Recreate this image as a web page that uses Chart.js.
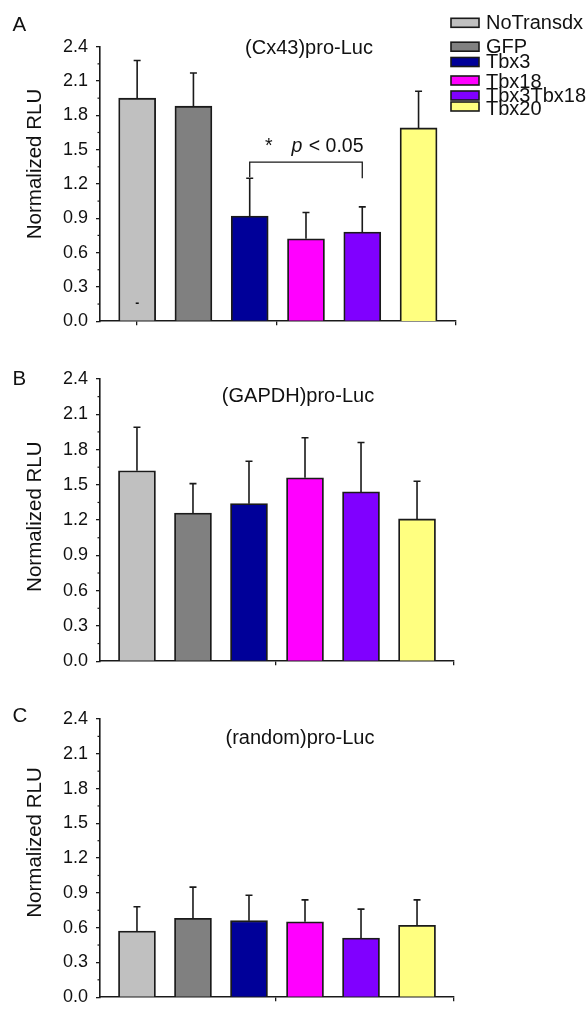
<!DOCTYPE html>
<html><head><meta charset="utf-8">
<script src="https://cdn.jsdelivr.net/npm/chart.js@4.4.0/dist/chart.umd.min.js"></script>
<style>
html,body{margin:0;padding:0;background:#fff;}
#wrap{position:relative;width:587px;height:1016px;overflow:hidden;}
canvas{position:absolute;left:0;}
</style></head><body>
<div id="wrap">
<canvas id="cA" width="587" height="340" style="top:0px;width:587px;height:340px"></canvas>
<canvas id="cB" width="587" height="340" style="top:340px;width:587px;height:340px"></canvas>
<canvas id="cC" width="587" height="336" style="top:680px;width:587px;height:336px"></canvas>
</div>
<script>
// ---- data ----
const categories = ['NoTransdx', 'GFP', 'Tbx3', 'Tbx18', 'Tbx3Tbx18', 'Tbx20'];
const yTickValues = [0.0, 0.3, 0.6, 0.9, 1.2, 1.5, 1.8, 2.1, 2.4];

const cx43Means  = [1.95, 1.88, 0.92, 0.72, 0.78, 1.69];
const cx43Errors = [0.33, 0.29, 0.33, 0.23, 0.22, 0.32];

const gapdhMeans  = [1.62, 1.26, 1.34, 1.56, 1.44, 1.21];
const gapdhErrors = [0.37, 0.25, 0.36, 0.34, 0.42, 0.32];

const randomMeans  = [0.57, 0.68, 0.66, 0.65, 0.51, 0.62];
const randomErrors = [0.21, 0.27, 0.22, 0.19, 0.25, 0.22];

const significance = {from: 2, to: 4, level: 1.39, leftEnd: 1.26, rightEnd: 1.25, star: '*', label: '< 0.05'};

// ---- styles ----
const barColors = ['#C0C0C0', '#808080', '#000099', '#FF00FF', '#8000FF', '#FFFF80'];
const FONT = '"Liberation Sans", Arial, sans-serif';
const INK = '#1a1a1a';

const deco = {
  id: 'deco',
  afterDatasetsDraw(chart) {
    const ctx = chart.ctx;
    const meta = chart.getDatasetMeta(0);
    const ds = chart.data.datasets[0];
    const ys = chart.scales.y;
    ctx.save();
    ctx.strokeStyle = INK;
    ctx.lineWidth = 1.6;
    meta.data.forEach((bar, i) => {
      const yErr = ys.getPixelForValue(ds.data[i].y + ds.errors[i]);
      ctx.beginPath();
      ctx.moveTo(bar.x, bar.y);
      ctx.lineTo(bar.x, yErr);
      ctx.moveTo(bar.x - 3.5, yErr);
      ctx.lineTo(bar.x + 3.5, yErr);
      ctx.stroke();
    });
    ctx.restore();
  },
  afterDraw(chart) {
    const o = chart.options.plugins.deco;
    const ctx = chart.ctx;
    const ys = chart.scales.y, xs = chart.scales.x;
    const left = chart.chartArea.left;
    ctx.save();
    // minor ticks
    ctx.strokeStyle = INK; ctx.lineWidth = 1.2;
    for (let i = 0; i < yTickValues.length - 1; i++) {
      const y = ys.getPixelForValue((yTickValues[i] + yTickValues[i + 1]) / 2);
      ctx.beginPath(); ctx.moveTo(left - 2.5, y); ctx.lineTo(left, y); ctx.stroke();
    }
    ctx.fillStyle = '#111';
    ctx.textBaseline = 'middle';
    // panel letter
    ctx.font = '20.5px ' + FONT; ctx.textAlign = 'left';
    ctx.fillText(o.letter, o.letterPos[0], o.letterPos[1]);
    // subtitle
    ctx.font = '20px ' + FONT; ctx.textAlign = 'center';
    ctx.fillText(o.subtitle, o.subPos[0], o.subPos[1]);
    // y title
    ctx.save();
    ctx.translate(35, o.yTitleY);
    ctx.rotate(-Math.PI / 2);
    ctx.font = '20.5px ' + FONT; ctx.textAlign = 'center';
    ctx.fillText('Normalized RLU', 0, 0);
    ctx.restore();

    if (o.dash) {
      ctx.font = 'bold 12px ' + FONT; ctx.textAlign = 'center';
      ctx.fillText('-', xs.getPixelForValue(0), ys.getPixelForValue(0.15));
    }
    if (o.bracket) {
      const s = significance;
      const x1 = xs.getPixelForValue(s.from), x2 = xs.getPixelForValue(s.to);
      const yl = ys.getPixelForValue(s.level);
      ctx.strokeStyle = INK; ctx.lineWidth = 1.3;
      ctx.beginPath();
      ctx.moveTo(x1, ys.getPixelForValue(s.leftEnd));
      ctx.lineTo(x1, yl); ctx.lineTo(x2, yl);
      ctx.lineTo(x2, ys.getPixelForValue(s.rightEnd));
      ctx.stroke();
      ctx.textAlign = 'left';
      ctx.font = '19.5px ' + FONT;
      ctx.fillText(s.star, 265, 147);
      ctx.font = 'italic 19.5px ' + FONT;
      ctx.fillText('p', 291.5, 147);
      const pw = ctx.measureText('p ').width;
      ctx.font = '19.5px ' + FONT;
      ctx.fillText(s.label, 291.5 + pw + 1, 147);
    }
    if (o.legend) {
      const rows = [[22.8, 23.3], [46.7, 47.5], [62, 62], [80.5, 82], [95.5, 96.5], [106.5, 109.5]];
      ctx.font = '20px ' + FONT; ctx.textAlign = 'left';
      categories.forEach((c, i) => {
        const [by, ty] = rows[i];
        ctx.fillStyle = barColors[i];
        ctx.fillRect(451, by - 4.5, 28, 9);
        ctx.strokeStyle = INK; ctx.lineWidth = 1.6;
        ctx.strokeRect(451, by - 4.5, 28, 9);
        ctx.fillStyle = '#111';
        ctx.fillText(c, 486, ty);
      });
    }
    ctx.restore();
  }
};

function makeChart(id, means, errors, lay, decoOpts) {
  return new Chart(document.getElementById(id), {
    type: 'bar',
    data: {
      labels: categories,
      datasets: [{
        data: means.map((v, i) => ({x: i, y: v})),
        errors: errors,
        backgroundColor: barColors,
        borderColor: INK,
        borderWidth: 1.8,
        barThickness: 37
      }]
    },
    options: {
      responsive: false,
      animation: false,
      layout: {padding: {top: lay.top, bottom: lay.bottom, left: 0, right: lay.right}},
      plugins: {legend: {display: false}, tooltip: {enabled: false}, deco: decoOpts},
      scales: {
        x: {
          type: 'linear', min: -0.66, max: 5.66, offset: false,
          grid: {display: true, offset: false, drawOnChartArea: false, drawTicks: true, tickLength: 4, color: INK, lineWidth: 1.3},
          border: {display: true, color: INK, width: 1.6},
          ticks: {display: false},
          afterBuildTicks: s => { s.ticks = lay.xTicks.map(v => ({value: v})); },
          afterFit: s => { s.height = 5; }
        },
        y: {
          min: 0, max: 2.4,
          grid: {drawOnChartArea: false, drawTicks: true, tickLength: 4, color: INK, lineWidth: 1.3},
          border: {display: true, color: INK, width: 1.6},
          ticks: {color: '#111', padding: 8, font: {family: FONT, size: 18}, callback: v => Number(v).toFixed(1)},
          afterBuildTicks: s => { s.ticks = yTickValues.map(v => ({value: v})); },
          afterFit: s => { s.width = 100; }
        }
      }
    },
    plugins: [deco]
  });
}

makeChart('cA', cx43Means, cx43Errors,
  {top: 46.7, bottom: 4, right: 131.3, xTicks: [0, 2.47, 5.66]},
  {letter: 'A', letterPos: [12.5, 25], subtitle: '(Cx43)pro-Luc', subPos: [309, 48], yTitleY: 164, legend: true, bracket: true, dash: true});
makeChart('cB', gapdhMeans, gapdhErrors,
  {top: 39, bottom: 11.7, right: 133, xTicks: [2.47, 5.66]},
  {letter: 'B', letterPos: [12.5, 39], subtitle: '(GAPDH)pro-Luc', subPos: [298, 56.7], yTitleY: 176.7});
makeChart('cC', randomMeans, randomErrors,
  {top: 39, bottom: 7.7, right: 133, xTicks: [2.47, 5.66]},
  {letter: 'C', letterPos: [12.5, 36.7], subtitle: '(random)pro-Luc', subPos: [300, 58], yTitleY: 162.5});
</script>
</body></html>
